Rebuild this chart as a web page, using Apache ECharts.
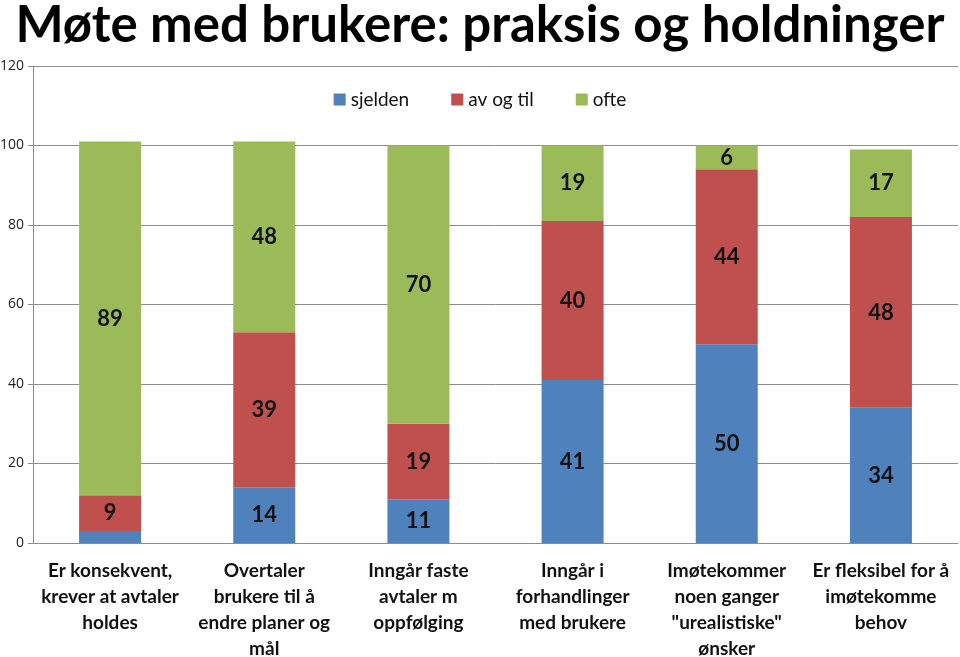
<!DOCTYPE html>
<html><head><meta charset="utf-8">
<script src="https://cdn.jsdelivr.net/npm/echarts@6/dist/echarts.min.js"></script>
<style>html,body{margin:0;padding:0;background:#fff}#c{width:960px;height:657px}</style>
</head><body><div id="c"></div>
<script>
var categories = ['Er konsekvent,\nkrever at avtaler\nholdes','Overtaler\nbrukere til å\nendre planer og\nmål','Inngår faste\navtaler m\noppfølging','Inngår i\nforhandlinger\nmed brukere','Imøtekommer\nnoen ganger\n"urealistiske"\nønsker','Er fleksibel for å\nimøtekomme\nbehov'];
var sjelden = [3,14,11,41,50,34];
var avOgTil = [9,39,19,40,44,48];
var ofte = [89,48,70,19,6,17];
var yTicks = [0,20,40,60,80,100,120];
var titleText = 'Møte med brukere: praksis og holdninger';

var labelFont = 'Lato, "Open Sans", sans-serif';
function mk(name, data, color){
  return {name:name,type:'bar',stack:'s',data:data,barWidth:62,
    itemStyle:{color:color},
    label:{show:true,position:'inside',color:'#111',fontWeight:'bold',fontSize:22,fontFamily:labelFont,
      formatter:function(p){return p.value<5&&name==='sjelden'?'':p.value;}}};
}
var chart = echarts.init(document.getElementById('c'));
chart.setOption({
  animation:false,
  title:{text:titleText,left:'center',top:-5,textStyle:{fontFamily:'Lato, sans-serif',fontWeight:'bold',fontSize:51,color:'#000'}},
  legend:{top:85,left:'center',itemWidth:12,itemHeight:12,itemGap:42,icon:'rect',textStyle:{fontFamily:labelFont,fontSize:19,color:'#111'}},
  grid:{left:33,right:2,top:66,bottom:114,outerBoundsMode:'none',containLabel:false},
  xAxis:{type:'category',data:categories,
    axisLine:{lineStyle:{color:'#8c8c8c'}},axisTick:{length:6,lineStyle:{color:'#8c8c8c'}},
    axisLabel:{interval:0,fontFamily:labelFont,fontWeight:'bold',fontSize:19,color:'#111',lineHeight:26,margin:15}},
  yAxis:{type:'value',min:yTicks[0],max:yTicks[yTicks.length-1],interval:20,
    axisLine:{show:true,lineStyle:{color:'#8c8c8c'}},axisTick:{show:true,length:5,lineStyle:{color:'#8c8c8c'}},
    splitLine:{lineStyle:{color:'#8c8c8c'}},
    axisLabel:{fontFamily:'"Open Sans", sans-serif',fontSize:14,color:'#222',margin:9}},
  series:[mk('sjelden',sjelden,'#4F81BD'),mk('av og til',avOgTil,'#C0504D'),mk('ofte',ofte,'#9BBB59')]
});
</script></body></html>
